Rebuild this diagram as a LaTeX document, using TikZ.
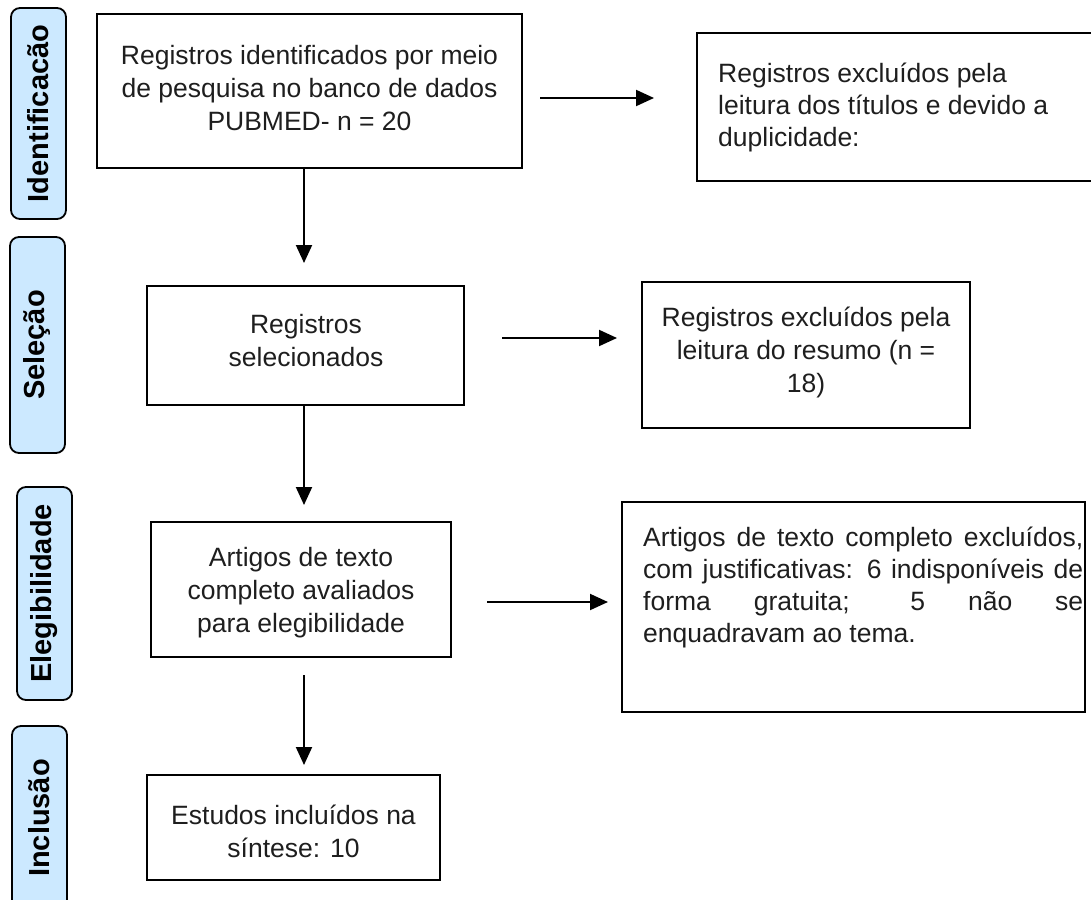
\documentclass[tikz,border=0pt]{standalone}
\usepackage{fontspec}
\setmainfont{Liberation Sans}
\usetikzlibrary{arrows.meta}
\definecolor{labfill}{RGB}{204,233,255}
\definecolor{ink}{RGB}{30,30,30}
\begin{document}
\begin{tikzpicture}[x=1pt,y=-1pt,
  box/.style={draw=black, line width=2pt, inner sep=0pt},
  txt/.style={inner sep=0pt, text=ink, font=\fontsize{26.5}{33}\selectfont, align=center},
  ltxt/.style={inner sep=0pt, text=ink, font=\fontsize{26.5}{32}\selectfont, align=left, anchor=west},
  lab/.style={draw=black, line width=1.8pt, rounded corners=9pt, fill=labfill, inner sep=0pt, minimum height=55pt, font=\fontsize{29}{33}\selectfont\bfseries, rotate=90},
  arr/.style={line width=2pt, -{Triangle[length=18pt,width=16pt]}}]
\useasboundingbox (0,0) rectangle (1091,899);

% stage labels
\node[lab, minimum width=211pt] (l1) at (38.5,113.5) {Identificacão};
\node[lab, minimum width=216pt] (l2) at (37.5,345) {Seleção};
\node[lab, minimum width=213pt] (l3) at (44.5,593.5) {Elegibilidade};
\node[lab, minimum width=184pt] (l4) at (39.5,818) {Inclusão};

% boxes
\node[box, minimum width=425pt, minimum height=154pt] (b1) at (309.5,91) {};
\node[box, minimum width=403pt, minimum height=148pt] (r1) at (898.5,107) {};
\node[box, minimum width=317pt, minimum height=119pt] (b2) at (305.5,345.5) {};
\node[box, minimum width=328pt, minimum height=146pt] (r2) at (806,355) {};
\node[box, minimum width=300pt, minimum height=135pt] (b3) at (301,589.5) {};
\node[box, minimum width=463pt, minimum height=210pt] (r3) at (853.5,607) {};
\node[box, minimum width=293pt, minimum height=105pt] (b4) at (293.5,827.5) {};

% texts
\node[txt] (b1t) at (309.5,88) {Registros identificados por meio\\de pesquisa no banco de dados\\PUBMED- n = 20};
\node[ltxt] (r1t) at (718,107) {Registros excluídos pela\\leitura dos títulos e devido a\\duplicidade:};
\node[txt] (b2t) at (306,341) {Registros\\selecionados};
\node[txt] (r2t) at (806,352) {Registros excluídos pela\\leitura do resumo (n =\\18)};
\node[txt] (b3t) at (301,593) {Artigos de texto\\completo avaliados\\para elegibilidade};
\node[inner sep=0pt, text=ink, font=\fontsize{26.5}{32}\selectfont, text width=440pt, align=justify, anchor=west] (r3t) at (643,587) {Artigos de texto completo excluídos,\linebreak com justificativas: 6 indisponíveis de\linebreak forma gratuita; 5 não se\linebreak enquadravam ao tema.};
\node[txt] (b4t) at (293.5,831) {Estudos incluídos na\\síntese: 10};

% arrow end points
\coordinate (d1s) at (304,168);
\coordinate (d1e) at (304,263);
\coordinate (d2s) at (304,405);
\coordinate (d2e) at (304,505);
\coordinate (d3s) at (304,675);
\coordinate (d3e) at (304,765);
\coordinate (h1s) at (540,98);
\coordinate (h1e) at (654,98);
\coordinate (h2s) at (502,338);
\coordinate (h2e) at (617,338);
\coordinate (h3s) at (487,602);
\coordinate (h3e) at (608,602);

\draw[arr] (d1s) -- (d1e);
\draw[arr] (d2s) -- (d2e);
\draw[arr] (d3s) -- (d3e);
\draw[arr] (h1s) -- (h1e);
\draw[arr] (h2s) -- (h2e);
\draw[arr] (h3s) -- (h3e);
\end{tikzpicture}
\end{document}
